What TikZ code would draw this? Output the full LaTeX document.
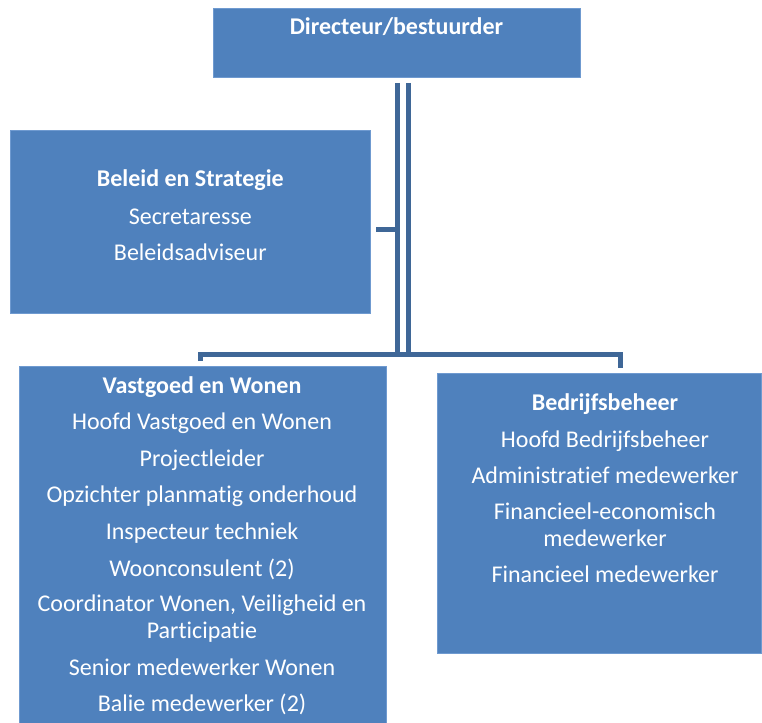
\documentclass[tikz,border=0pt]{standalone}
\usepackage{fontspec}
\setmainfont{Carlito}[RawFeature={-liga}]
\definecolor{boxblue}{HTML}{4F81BD}
\definecolor{boxedge}{HTML}{6F9AD0}
\definecolor{connblue}{HTML}{3F6797}
\begin{document}
\begin{tikzpicture}[x=1pt,y=-1pt,
  box/.style={fill=boxblue,draw=boxedge,line width=0.6pt,inner sep=0pt,rectangle},
  lbl/.style={text=white,anchor=base,inner sep=0pt,font=\fontsize{24}{29}\selectfont},
  hdr/.style={lbl,font=\fontsize{24}{29}\selectfont\bfseries},
  conn/.style={draw=connblue,line width=5pt,line join=miter}]
\useasboundingbox (0,0) rectangle (762,722);
% boxes
\node[box,minimum width=367pt,minimum height=69pt] (top) at (396.5,42.5) {};
\node[box,minimum width=359.5pt,minimum height=183pt] (beleid) at (190.25,221.5) {};
\node[box,minimum width=367pt,minimum height=358pt] (vast) at (202.5,545) {};
\node[box,minimum width=324pt,minimum height=280pt] (bedr) at (599,513) {};
% texts
\node[hdr] (t1) at (396.5,35) {Directeur/bestuurder};
\node[hdr] (b1) at (190.3,186.7) {Beleid en Strategie};
\node[lbl] (b2) at (190.3,224) {Secretaresse};
\node[lbl] (b3) at (190.3,260.7) {Beleidsadviseur};
\node[hdr] (v1) at (202,393.3) {Vastgoed en Wonen};
\node[lbl] (v2) at (202,429) {Hoofd Vastgoed en Wonen};
\node[lbl] (v3) at (202,466) {Projectleider};
\node[lbl] (v4) at (202,502.7) {Opzichter planmatig onderhoud};
\node[lbl] (v5) at (202,539.3) {Inspecteur techniek};
\node[lbl] (v6) at (202,576) {Woonconsulent (2)};
\node[lbl] (v7) at (202,611.7) {Coordinator Wonen, Veiligheid en};
\node[lbl] (v8) at (202,638.3) {Participatie};
\node[lbl] (v9) at (202,675) {Senior medewerker Wonen};
\node[lbl] (v10) at (202,711) {Balie medewerker (2)};
\node[hdr] (d1) at (605,410.7) {Bedrijfsbeheer};
\node[lbl] (d2) at (605,447.3) {Hoofd Bedrijfsbeheer};
\node[lbl] (d3) at (605,483.3) {Administratief medewerker};
\node[lbl] (d4) at (605,519.3) {Financieel-economisch};
\node[lbl] (d5) at (605,546) {medewerker};
\node[lbl] (d6) at (605,582.7) {Financieel medewerker};
% connector points
\coordinate (aTop) at (397,83);
\coordinate (aBot) at (397,357);
\coordinate (bTop) at (408,83);
\coordinate (bBot) at (408,357);
\coordinate (stubL) at (376,229.7);
\coordinate (stubR) at (399.5,229.7);
\coordinate (barL) at (200.5,354.7);
\coordinate (barR) at (620,354.7);
\coordinate (tickL) at (200.5,361);
\coordinate (tickR) at (620,367.5);
% connectors
\draw[conn] (aTop) -- (aBot);
\draw[conn] (bTop) -- (bBot);
\draw[conn] (stubL) -- (stubR);
\draw[conn] (tickL) -- (barL) -- (barR) -- (tickR);
\end{tikzpicture}
\end{document}
